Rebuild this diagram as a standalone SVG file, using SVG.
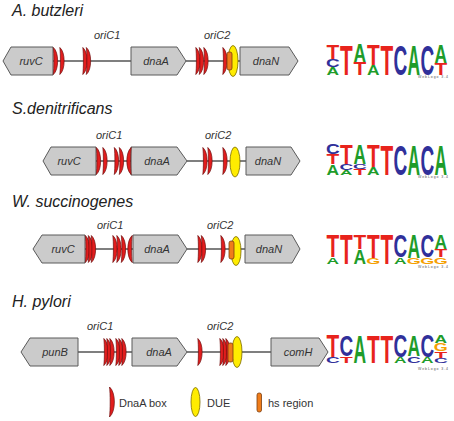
<svg xmlns="http://www.w3.org/2000/svg" width="454" height="421" viewBox="0 0 454 421">
<style>
.gene{fill:#cbcbcb;stroke:#5a5a5a;stroke-width:1}
.gl{font-family:"Liberation Sans",Arial,sans-serif;font-style:italic;font-size:11px;fill:#333;text-anchor:middle}
.title{font-family:"Liberation Sans",Arial,sans-serif;font-style:italic;font-size:16px;fill:#222}
.ori{font-family:"Liberation Sans",Arial,sans-serif;font-style:italic;font-size:11px;fill:#333}
.leg{font-family:"Liberation Sans",Arial,sans-serif;font-size:11px;fill:#333}
.box{fill:#e21d1d;stroke:#6e1010;stroke-width:0.7}
.due{fill:#ffec00;stroke:#7a6a00;stroke-width:0.8}
.hs{fill:#f07d1a;stroke:#7a3e10;stroke-width:0.8}
.ln{stroke:#555;stroke-width:1.5;fill:none}
.lg{font-family:"Liberation Sans",Arial,sans-serif;font-weight:bold;font-size:10px;text-anchor:middle}
.T{fill:#e8231c}.C{fill:#30309a}.A{fill:#1e9c2a}.G{fill:#f5a000}
.wl{font-family:"Liberation Sans",Arial,sans-serif;font-size:3.5px;fill:#555}
</style>
<defs>
<path id="db" class="box" d="M-1.2,-13.5 C4.6,-9 4.6,9 -1.2,13.5 C-0.4,8 -0.4,-8 -1.2,-13.5Z"/>
<path id="dbl" class="box" d="M-1.5,-15 C5,-10 5,10 -1.5,15 C-0.6,9 -0.6,-9 -1.5,-15Z"/>
</defs>

<!-- titles -->
<text class="title" x="12" y="16">A. butzleri</text>
<text class="title" x="12" y="114">S.denitrificans</text>
<text class="title" x="12" y="207">W. succinogenes</text>
<text class="title" x="12" y="307">H. pylori</text>

<!-- oriC labels -->
<text class="ori" x="94" y="39">oriC1</text>
<text class="ori" x="204" y="39">oriC2</text>
<text class="ori" x="96" y="139">oriC1</text>
<text class="ori" x="205" y="139">oriC2</text>
<text class="ori" x="97" y="229">oriC1</text>
<text class="ori" x="207" y="229">oriC2</text>
<text class="ori" x="87" y="330">oriC1</text>
<text class="ori" x="207" y="330">oriC2</text>

<!-- connectors -->
<g id="connectors">
<line class="ln" x1="53" y1="61" x2="131" y2="61"/>
<line class="ln" x1="186" y1="61" x2="240" y2="61"/>
<line class="ln" x1="96" y1="161" x2="131" y2="161"/>
<line class="ln" x1="187" y1="161" x2="246" y2="161"/>
<line class="ln" x1="85" y1="249" x2="133" y2="249"/>
<line class="ln" x1="187" y1="249" x2="245" y2="249"/>
<line class="ln" x1="78" y1="352" x2="132" y2="352"/>
<line class="ln" x1="187" y1="352" x2="271" y2="352"/>
</g>

<!-- Row 1: A. butzleri -->
<g id="r1-ruvC"><polygon class="gene" points="3,61 11,47 53,47 53,75 11,75"/><text class="gl" x="31" y="65">ruvC</text></g>
<g id="r1-dnaA"><polygon class="gene" points="131,47 177,47 186,61 177,75 131,75"/><text class="gl" x="156" y="65">dnaA</text></g>
<g id="r1-dnaN"><polygon class="gene" points="240,47 289,47 298,61 289,75 240,75"/><text class="gl" x="266" y="65">dnaN</text></g>
<g id="r1-oriC1">
<use href="#db" x="54.5" y="61"/>
<use href="#db" x="61" y="61"/>
<use href="#db" x="84" y="61"/>
<use href="#db" x="87.5" y="61"/>
</g>
<g id="r1-oriC2">
<use href="#db" x="197" y="61"/>
<use href="#db" x="200.5" y="61"/>
<use href="#db" x="205" y="61"/>
<use href="#db" x="224" y="61"/>
<ellipse class="due" cx="233" cy="61" rx="5" ry="15.5"/>
<rect class="hs" x="227" y="52" width="5" height="18" rx="2"/>
</g>

<!-- Row 2: S. denitrificans -->
<g id="r2-ruvC"><polygon class="gene" points="43,161 51,147 96,147 96,175 51,175"/><text class="gl" x="69" y="165">ruvC</text></g>
<g id="r2-dnaA"><polygon class="gene" points="131,147 177,147 187,161 177,175 131,175"/><text class="gl" x="157" y="165">dnaA</text></g>
<g id="r2-dnaN"><polygon class="gene" points="246,147 291,147 300,161 291,175 246,175"/><text class="gl" x="268" y="165">dnaN</text></g>
<g id="r2-oriC1">
<use href="#db" x="97.5" y="161"/>
<use href="#db" x="104" y="161"/>
<use href="#db" x="115.5" y="161"/>
<use href="#db" x="120.5" y="161"/>
<use href="#db" x="129" y="161" transform="translate(259,0) scale(-1,1)"/>
</g>
<g id="r2-oriC2">
<use href="#db" x="204" y="161"/>
<use href="#db" x="209" y="161"/>
<use href="#db" x="224" y="161"/>
<ellipse class="due" cx="235" cy="162" rx="5" ry="15"/>
</g>

<!-- Row 3: W. succinogenes -->
<g id="r3-ruvC"><polygon class="gene" points="33,249 42,235 85,235 85,263 42,263"/><text class="gl" x="63" y="253">ruvC</text></g>
<g id="r3-dnaA"><polygon class="gene" points="133,235 178,235 187,249 178,263 133,263"/><text class="gl" x="157" y="253">dnaA</text></g>
<g id="r3-dnaN"><polygon class="gene" points="245,235 292,235 300,249 292,263 245,263"/><text class="gl" x="269" y="253">dnaN</text></g>
<g id="r3-oriC1">
<use href="#db" x="86.5" y="249"/>
<use href="#db" x="89.5" y="249"/>
<use href="#db" x="92.5" y="249"/>
<use href="#db" x="114" y="249"/>
<use href="#db" x="118" y="249"/>
<use href="#db" x="122.5" y="249"/>
<use href="#db" x="130" y="249" transform="translate(261,0) scale(-1,1)"/>
</g>
<g id="r3-oriC2">
<use href="#db" x="199" y="249"/>
<use href="#db" x="202.5" y="249"/>
<use href="#db" x="222" y="249"/>
<ellipse class="due" cx="236" cy="251" rx="5" ry="14.5"/>
<rect class="hs" x="229" y="241" width="5" height="18" rx="2"/>
</g>

<!-- Row 4: H. pylori -->
<g id="r4-punB"><polygon class="gene" points="21,352 30,338 78,338 78,366 30,366"/><text class="gl" x="55" y="356">punB</text></g>
<g id="r4-dnaA"><polygon class="gene" points="132,338 177,338 187,352 177,366 132,366"/><text class="gl" x="159" y="356">dnaA</text></g>
<g id="r4-comH"><polygon class="gene" points="271,338 319,338 328,352 319,366 271,366"/><text class="gl" x="298" y="356">comH</text></g>
<g id="r4-oriC1">
<use href="#db" x="105" y="352"/>
<use href="#db" x="108" y="352"/>
<use href="#db" x="111" y="352"/>
<use href="#db" x="117" y="352"/>
<use href="#db" x="120" y="352"/>
<use href="#db" x="123" y="352"/>
</g>
<g id="r4-oriC2">
<use href="#db" x="199" y="352"/>
<use href="#db" x="221" y="352"/>
<use href="#db" x="224" y="352"/>
<use href="#db" x="227" y="352"/>
<ellipse class="due" cx="237" cy="352" rx="5" ry="15.5"/>
<rect class="hs" x="228" y="343" width="5" height="19" rx="2"/>
</g>

<!-- Logo 1 -->
<g id="logo1" class="lg">
<text class="T" transform="translate(332.8,59) scale(2.08,2.095)">T</text>
<text class="C" transform="translate(332.8,67) scale(1.9,1.117)">C</text>
<text class="A" transform="translate(332.8,75) scale(1.74,1.117)">A</text>
<text class="T" transform="translate(346.3,75) scale(2.08,4.33)">T</text>
<text class="A" transform="translate(359.8,62) scale(1.74,2.514)">A</text>
<text class="T" transform="translate(359.8,75) scale(2.08,1.816)">T</text>
<text class="T" transform="translate(373.3,65) scale(2.08,2.933)">T</text>
<text class="A" transform="translate(373.3,75) scale(1.74,1.397)">A</text>
<text class="T" transform="translate(386.8,75) scale(2.08,4.33)">T</text>
<text class="C" transform="translate(400.3,75) scale(1.9,4.33)">C</text>
<text class="A" transform="translate(413.8,75) scale(1.74,4.33)">A</text>
<text class="C" transform="translate(427.3,75) scale(1.9,4.33)">C</text>
<text class="A" transform="translate(440.8,63) scale(1.74,2.654)">A</text>
<text class="T" transform="translate(440.8,75) scale(2.08,1.676)">T</text>
</g>
<text class="wl" x="418" y="78" textLength="30">WebLogo 3.4</text>

<!-- Logo 2 -->
<g id="logo2" class="lg">
<text class="C" transform="translate(332.8,154) scale(1.9,1.397)">C</text>
<text class="T" transform="translate(332.8,164) scale(2.08,1.397)">T</text>
<text class="A" transform="translate(332.8,175) scale(1.74,1.536)">A</text>
<text class="T" transform="translate(346.3,164) scale(2.08,2.793)">T</text>
<text class="C" transform="translate(346.3,170) scale(1.9,0.838)">C</text>
<text class="A" transform="translate(346.3,175) scale(1.74,0.698)">A</text>
<text class="A" transform="translate(359.8,164) scale(1.74,2.793)">A</text>
<text class="C" transform="translate(359.8,169) scale(1.9,0.698)">C</text>
<text class="T" transform="translate(359.8,175) scale(2.08,0.838)">T</text>
<text class="T" transform="translate(373.3,167) scale(2.08,3.212)">T</text>
<text class="A" transform="translate(373.3,175) scale(1.74,1.117)">A</text>
<text class="T" transform="translate(386.8,175) scale(2.08,4.33)">T</text>
<text class="C" transform="translate(400.3,175) scale(1.9,4.33)">C</text>
<text class="A" transform="translate(413.8,175) scale(1.74,4.33)">A</text>
<text class="C" transform="translate(427.3,175) scale(1.9,4.33)">C</text>
<text class="A" transform="translate(440.8,175) scale(1.74,4.33)">A</text>
</g>
<text class="wl" x="418" y="178" textLength="30">WebLogo 3.4</text>

<!-- Logo 3 -->
<g id="logo3" class="lg">
<text class="T" transform="translate(332.8,257) scale(2.08,3.212)">T</text>
<text class="A" transform="translate(332.8,264) scale(1.74,0.978)">A</text>
<text class="T" transform="translate(346.3,264) scale(2.08,4.19)">T</text>
<text class="T" transform="translate(359.8,249) scale(2.08,2.095)">T</text>
<text class="A" transform="translate(359.8,264) scale(1.74,2.095)">A</text>
<text class="T" transform="translate(373.3,258) scale(2.08,3.352)">T</text>
<text class="G" transform="translate(373.3,264) scale(1.8,0.838)">G</text>
<text class="T" transform="translate(386.8,264) scale(2.08,4.19)">T</text>
<text class="C" transform="translate(400.3,257) scale(1.9,3.212)">C</text>
<text class="A" transform="translate(400.3,264) scale(1.74,0.978)">A</text>
<text class="A" transform="translate(413.8,258) scale(1.74,3.352)">A</text>
<text class="G" transform="translate(413.8,264) scale(1.8,0.838)">G</text>
<text class="C" transform="translate(427.3,257) scale(1.9,3.212)">C</text>
<text class="G" transform="translate(427.3,264) scale(1.8,0.978)">G</text>
<text class="A" transform="translate(440.8,249) scale(1.74,2.095)">A</text>
<text class="T" transform="translate(440.8,257) scale(2.08,1.117)">T</text>
<text class="G" transform="translate(440.8,264) scale(1.8,0.978)">G</text>
</g>
<text class="wl" x="418" y="268" textLength="30">WebLogo 3.4</text>

<!-- Logo 4 -->
<g id="logo4" class="lg">
<text class="T" transform="translate(332.8,357) scale(2.08,3.073)">T</text>
<text class="C" transform="translate(332.8,363) scale(1.9,0.838)">C</text>
<text class="C" transform="translate(346.3,356) scale(1.9,2.933)">C</text>
<text class="T" transform="translate(346.3,363) scale(2.08,0.978)">T</text>
<text class="A" transform="translate(359.8,363) scale(1.74,3.911)">A</text>
<text class="T" transform="translate(373.3,363) scale(2.08,3.911)">T</text>
<text class="T" transform="translate(386.8,363) scale(2.08,3.911)">T</text>
<text class="C" transform="translate(400.3,357) scale(1.9,3.073)">C</text>
<text class="A" transform="translate(400.3,363) scale(1.74,0.838)">A</text>
<text class="A" transform="translate(413.8,356) scale(1.74,2.933)">A</text>
<text class="C" transform="translate(413.8,363) scale(1.9,0.978)">C</text>
<text class="C" transform="translate(427.3,357) scale(1.9,3.073)">C</text>
<text class="A" transform="translate(427.3,363) scale(1.74,0.838)">A</text>
<text class="A" transform="translate(440.8,343) scale(1.74,1.117)">A</text>
<text class="G" transform="translate(440.8,351) scale(1.8,1.117)">G</text>
<text class="T" transform="translate(440.8,358) scale(2.08,0.978)">T</text>
<text class="C" transform="translate(440.8,363) scale(1.9,0.698)">C</text>
</g>
<text class="wl" x="418" y="370" textLength="30">WebLogo 3.4</text>

<!-- Legend -->
<g id="legend-dnaa"><use href="#dbl" x="111" y="402"/><text class="leg" x="119" y="407">DnaA box</text></g>
<g id="legend-due"><ellipse class="due" cx="195.5" cy="402" rx="4.5" ry="14.5"/><text class="leg" x="207" y="407">DUE</text></g>
<g id="legend-hs"><rect class="hs" x="257" y="393" width="4.5" height="19" rx="2"/><text class="leg" x="268" y="407">hs region</text></g>
</svg>
